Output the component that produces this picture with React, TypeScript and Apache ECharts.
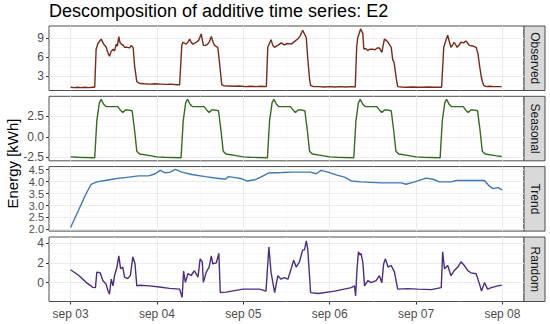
import React, { useEffect, useRef } from 'react';
import * as echarts from 'echarts';

// x positions are hours after sep 03 00:00
const xTicks = [0, 24, 48, 72, 96, 120];
const xTickLabels = ['sep 03', 'sep 04', 'sep 05', 'sep 06', 'sep 07', 'sep 08'];
const xMinor = [12, 36, 60, 84, 108];

const observed: [number, number][] = [
  [0, 1.2], [1, 1.15], [2, 1.2], [3, 1.15], [4, 1.2], [5, 1.15], [6, 1.2], [6.7, 1.2],
  [7.1, 7.2], [7.6, 8.1], [8.5, 8.8], [9.2, 8.0], [9.9, 7.5], [10.4, 6.6], [10.8, 6.1], [11.3, 6.9],
  [11.8, 7.2], [12.2, 6.9], [12.7, 8.0], [13.0, 7.7], [13.4, 9.2], [13.7, 8.3], [14.1, 8.0], [14.6, 7.8],
  [15.0, 7.5], [15.7, 7.5], [16.4, 7.4], [16.9, 7.8], [17.4, 7.4], [17.8, 4.5], [18.4, 2.1], [19.2, 1.8],
  [20.5, 1.75], [22, 1.7], [23.5, 1.75], [25, 1.7], [26.5, 1.65], [28, 1.7], [29.5, 1.6], [30.3, 1.6],
  [30.9, 7.8], [31.2, 8.3], [32.1, 8.0], [32.6, 8.3], [33.1, 8.8], [33.6, 8.2], [34.0, 8.0], [34.9, 8.3],
  [35.6, 8.6], [36.3, 9.6], [36.9, 7.8], [37.5, 7.8], [38.1, 8.0], [38.6, 8.4], [39.1, 9.2], [39.6, 8.3],
  [40.0, 7.8], [40.9, 7.5], [41.4, 5.0], [42.0, 1.6], [42.5, 1.45], [44, 1.4], [45.5, 1.35], [47, 1.4],
  [48.5, 1.3], [50, 1.35], [51.5, 1.3], [53, 1.35], [54.4, 1.3],
  [54.8, 7.5], [55.7, 8.7], [56.2, 7.8], [56.7, 7.5], [57.6, 7.8], [58.5, 8.2], [59.4, 7.9], [60.3, 8.1],
  [61.3, 8.0], [62.2, 8.4], [63.1, 8.8], [63.8, 9.3], [64.5, 10.2], [65.0, 9.6], [65.5, 9.0], [65.9, 5.8],
  [66.4, 2.5], [66.7, 1.5], [67.5, 1.3], [69, 1.3], [70.5, 1.25], [72, 1.3], [73.5, 1.25], [75, 1.3],
  [76.5, 1.25], [78, 1.3], [79.1, 1.25],
  [79.5, 7.5], [79.8, 9.0], [80.6, 10.4], [81.2, 9.7], [81.5, 7.2], [82.0, 7.3], [82.6, 7.0], [83.3, 7.2],
  [84.0, 7.2], [84.6, 7.1], [85.2, 7.4], [85.8, 7.4], [86.5, 6.7], [87.2, 8.8], [87.7, 8.6], [88.2, 8.3],
  [89.1, 7.5], [89.5, 5.6], [89.9, 5.1], [90.5, 2.6], [90.9, 1.3], [92, 1.25], [93.5, 1.2], [95, 1.25],
  [96.5, 1.2], [98, 1.2], [99.5, 1.25], [101, 1.2], [102.5, 1.2], [103.1, 1.2],
  [103.7, 7.5], [104.3, 8.6], [104.8, 9.4], [105.2, 8.5], [105.7, 7.5], [106.2, 7.9], [106.6, 8.3], [107.0, 7.9],
  [107.4, 7.5], [108.0, 7.9], [108.5, 8.3], [109.2, 8.2], [109.9, 8.5], [110.4, 8.1], [110.8, 7.8], [111.8, 7.7],
  [112.7, 7.5], [113.2, 6.5], [113.6, 4.8], [114.1, 2.9], [114.5, 2.0], [114.8, 1.5], [115.5, 1.3], [116.5, 1.35],
  [117.5, 1.3], [118.5, 1.3], [119.8, 1.3],
];

const seasonal: [number, number][] = [
  [0, -2.45], [2, -2.5], [4, -2.52], [6.7, -2.55], [7.3, 2.0], [8.0, 4.2], [8.5, 4.6], [9.2, 4.0],
  [9.9, 3.7], [11.8, 3.7], [13.1, 3.7], [13.8, 3.3], [14.5, 3.0], [15.2, 3.3], [15.9, 3.3], [17.1, 3.2],
  [17.8, 0.75], [18.4, -1.75], [19.2, -2.1], [22, -2.3],
  [24, -2.45], [26, -2.5], [28, -2.52], [30.7, -2.55], [31.3, 2.0], [32.0, 4.2], [32.5, 4.6], [33.2, 4.0],
  [33.9, 3.7], [35.8, 3.7], [37.1, 3.7], [37.8, 3.3], [38.5, 3.0], [39.2, 3.3], [39.9, 3.3], [41.1, 3.2],
  [41.8, 0.75], [42.4, -1.75], [43.2, -2.1], [46, -2.3],
  [48, -2.45], [50, -2.5], [52, -2.52], [54.7, -2.55], [55.3, 2.0], [56.0, 4.2], [56.5, 4.6], [57.2, 4.0],
  [57.9, 3.7], [59.8, 3.7], [61.1, 3.7], [61.8, 3.3], [62.5, 3.0], [63.2, 3.3], [63.9, 3.3], [65.1, 3.2],
  [65.8, 0.75], [66.4, -1.75], [67.2, -2.1], [70, -2.3],
  [72, -2.45], [74, -2.5], [76, -2.52], [78.7, -2.55], [79.3, 2.0], [80.0, 4.2], [80.5, 4.6], [81.2, 4.0],
  [81.9, 3.7], [83.8, 3.7], [85.1, 3.7], [85.8, 3.3], [86.5, 3.0], [87.2, 3.3], [87.9, 3.3], [89.1, 3.2],
  [89.8, 0.75], [90.4, -1.75], [91.2, -2.1], [94, -2.3],
  [96, -2.45], [98, -2.5], [100, -2.52], [102.7, -2.55], [103.3, 2.0], [104.0, 4.2], [104.5, 4.6], [105.2, 4.0],
  [105.9, 3.7], [107.8, 3.7], [109.1, 3.7], [109.8, 3.3], [110.5, 3.0], [111.2, 3.3], [111.9, 3.3], [113.1, 3.2],
  [113.8, 0.75], [114.4, -1.75], [115.2, -2.1], [118, -2.3], [119.8, -2.4],
];

const trend: [number, number][] = [
  [0, 2.08], [2.2, 2.8], [4.1, 3.43], [5.7, 3.89], [7.3, 3.99], [10, 4.06], [12.4, 4.12], [15, 4.17],
  [18.9, 4.24], [21.7, 4.24], [23.5, 4.33], [24.9, 4.47], [26.3, 4.37], [27.7, 4.4], [29.1, 4.51], [30.9, 4.4],
  [33.7, 4.3], [37.4, 4.21], [40.2, 4.15], [43.0, 4.1], [43.9, 4.21], [45.3, 4.18], [47.6, 4.12], [49.0, 4.03],
  [51.3, 4.08], [52.7, 4.18], [55.0, 4.36], [58.7, 4.38], [61.3, 4.4], [66.7, 4.4], [68.2, 4.33], [69.6, 4.47],
  [71.5, 4.4], [74.3, 4.26], [76.1, 4.19], [78.0, 4.03], [80.7, 3.99], [86.3, 3.95], [91.9, 3.95], [93.2, 3.89],
  [95.6, 3.99], [98.8, 4.15], [100.7, 4.1], [102.5, 3.99], [105.8, 3.99], [107.2, 4.05], [115.0, 4.05], [116.4, 3.81],
  [117.4, 3.71], [118.8, 3.75], [119.9, 3.66],
];

const random: [number, number][] = [
  [0, 1.3], [2.3, 0.72], [4.3, 0.03], [6.2, -0.48], [6.9, -0.5], [7.3, 1.06], [8.2, 1.0], [9.0, 0.2],
  [9.8, -0.1], [10.4, -0.82], [10.8, -1.16], [11.3, 0.36], [11.8, -0.33], [12.2, 0.7], [12.9, 1.57], [13.4, 2.7],
  [13.9, 1.4], [14.5, 1.57], [15.0, 0.56], [15.9, 0.4], [16.6, 0.73], [17.3, 2.6], [17.9, 1.9], [18.4, -0.33],
  [19.2, -0.26], [21.9, -0.33], [24.7, -0.44], [27.5, -0.58], [30.3, -0.65], [31.0, -1.5], [31.4, 1.16], [31.9, 0.03],
  [32.6, 0.9], [33.5, 0.72], [34.4, 1.2], [35.4, 0.56], [36.0, 2.4], [36.6, 2.1], [36.9, 0.03], [37.7, 1.06],
  [38.5, 1.57], [39.1, 2.7], [39.5, 1.9], [40.5, 2.0], [41.2, 2.95], [41.6, -1.0], [43.2, -0.95], [47.9, -0.65],
  [52.5, -0.65], [54.3, -0.85], [55.1, 3.6], [55.7, 1.06], [56.7, -1.0], [57.6, 0.7], [58.5, 0.35], [59.4, 0.5],
  [60.4, 0.35], [61.3, 1.4], [62.0, 2.25], [62.7, 1.57], [63.6, 2.1], [64.5, 3.3], [65.0, 3.3], [65.5, 4.2],
  [65.9, 3.4], [66.7, -1.0], [68.8, -1.1], [73.4, -0.85], [78.0, -0.5], [78.9, -0.33], [79.2, -1.33], [79.6, 1.4],
  [80.0, 3.1], [80.4, 2.8], [80.7, 2.95], [81.2, 2.1], [81.7, -0.33], [82.6, 0.2], [83.5, 0.0], [84.9, 0.2],
  [85.8, 0.7], [86.5, 0.0], [87.0, 1.9], [87.5, 2.4], [88.2, 1.57], [89.1, 1.73], [90.0, 1.06], [90.9, -0.65],
  [93.7, -0.6], [96.5, -0.65], [100.2, -0.7], [103.0, -0.5], [103.4, 3.1], [103.9, 1.4], [104.8, 1.73], [105.7, 0.7],
  [106.6, 1.2], [107.6, 1.57], [108.5, 2.1], [109.4, 1.73], [110.4, 1.2], [111.3, 0.98], [112.7, 0.9], [113.6, -0.1],
  [114.2, -0.85], [115.0, 0.0], [115.9, -0.65], [116.9, -0.5], [118.7, -0.33], [119.8, -0.26],
];

const obsTicks = [3, 6, 9];
const obsMinor = [1.5, 4.5, 7.5, 10.5];
const seaTicks = [-2.5, 0, 2.5];
const seaMinor = [-1.25, 1.25, 3.75];
const trendTicks = [2.0, 2.5, 3.0, 3.5, 4.0, 4.5];
const trendMinor = [2.25, 2.75, 3.25, 3.75, 4.25];
const randTicks = [0, 2, 4];
const randMinor = [-1, 1, 3];

const FONT = "'Liberation Sans', Arial, Helvetica, sans-serif";

export default function App() {
  const ref = useRef<HTMLDivElement>(null);
  useEffect(() => {
    if (!ref.current) return;
    const chart = echarts.init(ref.current, undefined, { renderer: 'svg' });
    const panels = [
      { name: 'Observed', data: observed, color: '#7a2a18', top: 26, height: 64.5, min: 0.69, max: 10.86, major: obsTicks, minor: obsMinor, dec: 0, fs: 12, lh: 14 },
      { name: 'Seasonal', data: seasonal, color: '#336b1f', top: 96.3, height: 64.5, min: -2.93, max: 4.97, major: seaTicks, minor: seaMinor, dec: 1, fs: 12, lh: 14 },
      { name: 'Trend', data: trend, color: '#3f78b8', top: 166.6, height: 64.5, min: 1.93, max: 4.63, major: trendTicks, minor: trendMinor, dec: 1, fs: 11, lh: 11 },
      { name: 'Random', data: random, color: '#4b2d87', top: 237, height: 64.5, min: -1.9, max: 4.6, major: randTicks, minor: randMinor, dec: 0, fs: 12, lh: 14 },
    ];
    const left = 49;
    const width = 475;
    const grids: any[] = [];
    const xAxes: any[] = [];
    const yAxes: any[] = [];
    const series: any[] = [];
    const graphics: any[] = [];
    panels.forEach((p, i) => {
      const last = i === panels.length - 1;
      grids.push({ left, top: p.top, width, height: p.height, show: true, backgroundColor: '#ffffff', borderColor: '#4d4d4d', borderWidth: 1, containLabel: false });
      xAxes.push({
        gridIndex: i, type: 'value', min: -6, max: 126, position: 'bottom',
        axisLine: { show: false, onZero: false },
        axisTick: { show: last, length: 3, customValues: xTicks, lineStyle: { color: '#333333' } },
        axisLabel: {
          show: last, customValues: xTicks, margin: 6, color: '#4d4d4d', fontSize: 12, fontFamily: FONT,
          formatter: (v: number) => xTickLabels[xTicks.indexOf(v)] ?? '',
        },
        splitLine: { show: true, lineStyle: { color: '#ebebeb', width: 1 } },
      });
      xAxes.push({
        gridIndex: i, type: 'value', min: -6, max: 126, position: 'top',
        axisLine: { show: false, onZero: false },
        axisTick: { show: false, customValues: xMinor },
        axisLabel: { show: false, customValues: xMinor },
        splitLine: { show: true, lineStyle: { color: '#f5f5f5', width: 0.6 } },
      });
      yAxes.push({
        gridIndex: i, type: 'value', min: p.min, max: p.max, position: 'left',
        axisLine: { show: false, onZero: false },
        axisTick: { show: true, length: 3, customValues: p.major, lineStyle: { color: '#333333' } },
        axisLabel: {
          customValues: p.major, margin: 5, color: '#4d4d4d', fontSize: p.fs, lineHeight: p.lh, fontFamily: FONT,
          formatter: (v: number) => v.toFixed(p.dec),
        },
        splitLine: { show: true, lineStyle: { color: '#ebebeb', width: 1 } },
      });
      yAxes.push({
        gridIndex: i, type: 'value', min: p.min, max: p.max, position: 'right',
        axisLine: { show: false, onZero: false },
        axisTick: { show: false, customValues: p.minor },
        axisLabel: { show: false, customValues: p.minor },
        splitLine: { show: true, lineStyle: { color: '#f5f5f5', width: 0.6 } },
      });
      series.push({
        type: 'line', xAxisIndex: 2 * i, yAxisIndex: 2 * i, data: p.data,
        showSymbol: false, symbol: 'none', lineStyle: { color: p.color, width: 1.4 }, itemStyle: { color: p.color },
        silent: true, z: 3,
      });
      graphics.push({
        type: 'rect', shape: { x: 524, y: p.top, width: 21, height: p.height },
        style: { fill: '#d9d9d9', stroke: '#4d4d4d', lineWidth: 1 },
      });
      graphics.push({
        type: 'text', x: 534.5, y: p.top + p.height / 2, rotation: -Math.PI / 2,
        style: { text: p.name, fontSize: 12, fontFamily: FONT, fill: '#1a1a1a', textAlign: 'center', textVerticalAlign: 'middle' },
      });
    });
    graphics.push({
      type: 'text', x: 49, y: 11,
      style: { text: 'Descomposition of additive time series: E2', fontSize: 18, fontFamily: FONT, fill: '#000000', textAlign: 'left', textVerticalAlign: 'middle' },
    });
    graphics.push({
      type: 'text', x: 12, y: 163.5, rotation: Math.PI / 2,
      style: { text: 'Energy [kWh]', fontSize: 15, fontFamily: FONT, fill: '#000000', textAlign: 'center', textVerticalAlign: 'middle' },
    });
    chart.setOption({
      animation: false,
      backgroundColor: '#ffffff',
      grid: grids,
      xAxis: xAxes,
      yAxis: yAxes,
      series,
      graphic: graphics,
    });
    return () => chart.dispose();
  }, []);
  return <div ref={ref} style={{ position: 'absolute', left: 0, top: 0, width: 550, height: 324 }} />;
}
